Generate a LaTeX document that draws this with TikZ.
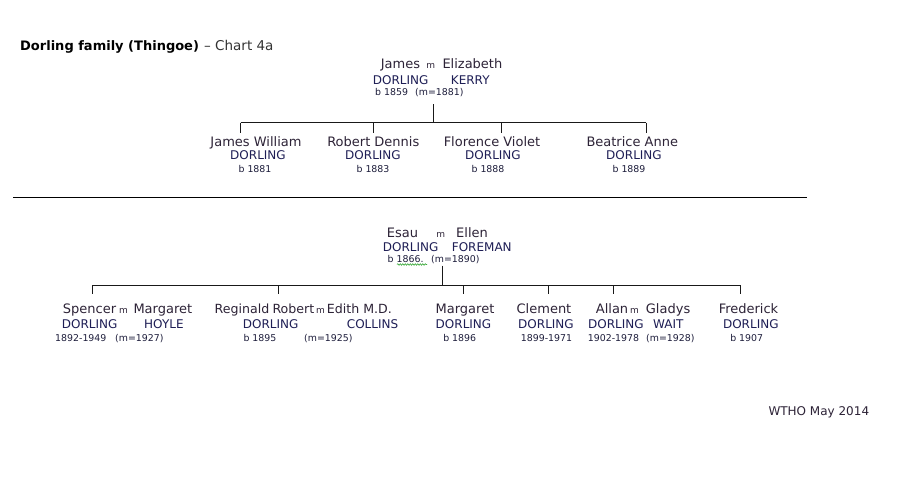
\documentclass[tikz,border=0pt]{standalone}
\usepackage{fontspec}
\setmainfont{DejaVu Sans}
\usetikzlibrary{decorations.pathmorphing}
\definecolor{namecol}{RGB}{45,35,55}
\definecolor{surcol}{RGB}{30,30,85}
\definecolor{smallcol}{RGB}{30,30,60}
\definecolor{linecol}{RGB}{25,25,25}
\definecolor{spellcol}{RGB}{60,170,60}
\begin{document}
\begin{tikzpicture}[x=1pt,y=-1pt,
  nm/.style={inner sep=0pt,text=namecol,font=\fontsize{13}{15}\selectfont},
  nmt/.style={nm,font=\fontsize{12.6}{15}\selectfont},
  sn/.style={inner sep=0pt,text=surcol,font=\fontsize{12}{14}\selectfont},
  sm/.style={inner sep=0pt,text=smallcol,font=\fontsize{9.4}{11}\selectfont},
  mm/.style={inner sep=0pt,text=namecol,font=\fontsize{9}{11}\selectfont},
  ttl/.style={inner sep=0pt,text=black,font=\fontsize{13}{15}\selectfont\bfseries},
  sub/.style={inner sep=0pt,text=black!80,font=\fontsize{13.5}{15}\selectfont},
  ln/.style={draw=linecol,line width=1pt}]
\useasboundingbox[fill=white] (0,0) rectangle (906,488);

% title
\node[ttl,anchor=base west] (title) at (20,50.7) {Dorling family (Thingoe)};
\node[sub,anchor=base west] (chart) at (204,50.7) {– Chart 4a};

% top couple
\node[nm,anchor=base west] (jam) at (380.7,68.3) {James};
\node[mm,anchor=base] (m1) at (430.7,68.3) {m};
\node[nm,anchor=base west] (eli) at (442.3,68.3) {Elizabeth};
\node[sn,anchor=base west] (jamS) at (372.7,84.3) {DORLING};
\node[sn,anchor=base west] (eliS) at (450.7,84.3) {KERRY};
\node[sm,anchor=base west] (jamD) at (375,95.7) {b 1859};
\node[sm,anchor=base west] (m1D) at (415,95.7) {(m=1881)};

% top children
\node[nm,anchor=base] (c1) at (256,146) {James William};
\node[sn,anchor=base] (c1S) at (258,159.5) {DORLING};
\node[sm,anchor=base] (c1D) at (255,172.5) {b 1881};
\node[nm,anchor=base] (c2) at (373.3,146) {Robert Dennis};
\node[sn,anchor=base] (c2S) at (373,159.5) {DORLING};
\node[sm,anchor=base] (c2D) at (373,172.5) {b 1883};
\node[nm,anchor=base] (c3) at (492,146) {Florence Violet};
\node[sn,anchor=base] (c3S) at (493,159.5) {DORLING};
\node[sm,anchor=base] (c3D) at (488,172.5) {b 1888};
\node[nm,anchor=base] (c4) at (632.3,146) {Beatrice Anne};
\node[sn,anchor=base] (c4S) at (634,159.5) {DORLING};
\node[sm,anchor=base] (c4D) at (629,172.5) {b 1889};

% top tree
\coordinate (p1) at (433.3,104);
\coordinate (b1) at (433.3,122.7);
\coordinate (k1) at (240.5,122.7);
\coordinate (k2) at (373.3,122.7);
\coordinate (k3) at (501.7,122.7);
\coordinate (k4) at (646,122.7);
\coordinate (k1b) at (240.5,132.7);
\coordinate (k2b) at (373.3,132.7);
\coordinate (k3b) at (501.7,132.7);
\coordinate (k4b) at (646,132.7);
\draw[ln] (p1) -- (b1);
\draw[ln] (k1) -- (k4);
\draw[ln] (k1) -- (k1b);
\draw[ln] (k2) -- (k2b);
\draw[ln] (k3) -- (k3b);
\draw[ln] (k4) -- (k4b);

% separator
\coordinate (sepL) at (13.3,197.7);
\coordinate (sepR) at (806.7,197.7);
\draw[draw=black,line width=1.1pt] (sepL) -- (sepR);

% Esau couple
\node[nm,anchor=base west] (esau) at (386.7,237.3) {Esau};
\node[mm,anchor=base] (m2) at (440.8,237.3) {m};
\node[nm,anchor=base west] (ell) at (456,237.3) {Ellen};
\node[sn,anchor=base west] (esauS) at (382.7,251) {DORLING};
\node[sn,anchor=base west] (ellS) at (451.7,251) {FOREMAN};
\node[sm,anchor=base west] (esauD) at (387.5,262.5) {b 1866.};
\node[sm,anchor=base west] (m2D) at (431,262.5) {(m=1890)};
\coordinate (spA) at (397,264.5);
\coordinate (spB) at (427,264.5);
\draw[spellcol,line width=0.6pt,decorate,decoration={snake,amplitude=0.8pt,segment length=2.5pt}] (spA) -- (spB);

% bottom tree
\coordinate (p2) at (442.7,265.5);
\coordinate (b2) at (442.7,285);
\coordinate (d1) at (92.3,285);
\coordinate (d2) at (278.3,285);
\coordinate (d3) at (463.3,285);
\coordinate (d4) at (548.3,285);
\coordinate (d5) at (613.3,285);
\coordinate (d6) at (740.7,285);
\coordinate (d1b) at (92.3,293.8);
\coordinate (d2b) at (278.3,293.8);
\coordinate (d3b) at (463.3,293.8);
\coordinate (d4b) at (548.3,293.8);
\coordinate (d5b) at (613.3,293.8);
\coordinate (d6b) at (740.7,293.8);
\draw[ln] (p2) -- (b2);
\draw[ln] (d1) -- (d6);
\draw[ln] (d1) -- (d1b);
\draw[ln] (d2) -- (d2b);
\draw[ln] (d3) -- (d3b);
\draw[ln] (d4) -- (d4b);
\draw[ln] (d5) -- (d5b);
\draw[ln] (d6) -- (d6b);

% Spencer
\node[nm,anchor=base west] (spe) at (62.7,313.3) {Spencer};
\node[mm,anchor=base] (m3) at (123.5,313.3) {m};
\node[nm,anchor=base west] (mar1) at (133.3,313.3) {Margaret};
\node[sn,anchor=base west] (speS) at (61.7,328.8) {DORLING};
\node[sn,anchor=base west] (mar1S) at (144,328.8) {HOYLE};
\node[sm,anchor=base west] (speD) at (55,341.5) {1892-1949};
\node[sm,anchor=base west] (m3D) at (115,341.5) {(m=1927)};

% Reginald Robert
\node[nmt,anchor=base west] (reg) at (214.5,313.3) {Reginald};
\node[nmt,anchor=base west] (rob) at (272.3,313.3) {Robert};
\node[mm,anchor=base] (m4) at (320.6,313.3) {m};
\node[nmt,anchor=base west] (edi) at (326.7,313.3) {Edith M.D.};
\node[sn,anchor=base west] (regS) at (242.7,328.8) {DORLING};
\node[sn,anchor=base west] (ediS) at (346.7,328.8) {COLLINS};
\node[sm,anchor=base west] (regD) at (243.3,341.5) {b 1895};
\node[sm,anchor=base west] (m4D) at (304,341.5) {(m=1925)};

% Margaret
\node[nm,anchor=base] (mar2) at (465,313.3) {Margaret};
\node[sn,anchor=base] (mar2S) at (463.5,328.8) {DORLING};
\node[sm,anchor=base] (mar2D) at (459.7,341.5) {b 1896};

% Clement
\node[nm,anchor=base] (cle) at (544,313.3) {Clement};
\node[sn,anchor=base] (cleS) at (546,328.8) {DORLING};
\node[sm,anchor=base] (cleD) at (546.5,341.5) {1899-1971};

% Allan
\node[nm,anchor=base west] (all) at (595.7,313.3) {Allan};
\node[mm,anchor=base] (m5) at (634.5,313.3) {m};
\node[nm,anchor=base west] (gla) at (645.7,313.3) {Gladys};
\node[sn,anchor=base west] (allS) at (588,328.8) {DORLING};
\node[sn,anchor=base west] (glaS) at (653,328.8) {WAIT};
\node[sm,anchor=base west] (allD) at (587.7,341.5) {1902-1978};
\node[sm,anchor=base west] (m5D) at (646,341.5) {(m=1928)};

% Frederick
\node[nm,anchor=base] (fre) at (748.5,313.3) {Frederick};
\node[sn,anchor=base] (freS) at (750.8,328.8) {DORLING};
\node[sm,anchor=base] (freD) at (746.7,341.5) {b 1907};

% footer
\node[inner sep=0pt,text=namecol,font=\fontsize{12}{14}\selectfont,anchor=base west] (foot) at (768.3,415) {WTHO May 2014};
\end{tikzpicture}
\end{document}
